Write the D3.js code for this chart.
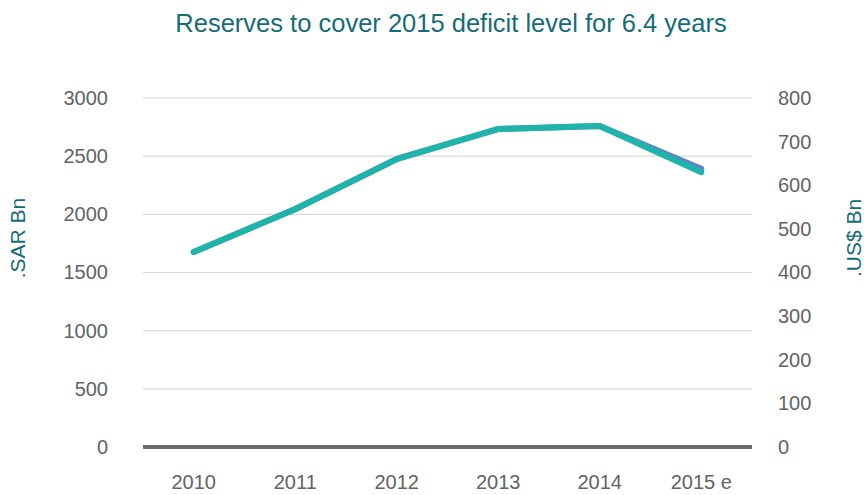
<!DOCTYPE html>
<html>
<head>
<meta charset="utf-8">
<script src="https://cdn.jsdelivr.net/npm/d3@7"></script>
<style>
  body { margin: 0; background: #fff; }
  svg { display: block; font-family: "Liberation Sans", Arial, sans-serif; }
</style>
</head>
<body>
<svg id="chart" width="864" height="495"></svg>
<script>
// Reserve levels by year
const years = ["2010", "2011", "2012", "2013", "2014", "2015 e"];
const reservesSAR = [1676, 2046, 2476, 2733, 2760, 2392];   // left axis, SAR Bn
const reservesUSD = [447, 545, 660, 729, 736, 630];         // right axis, US$ Bn
const leftTicks = [0, 500, 1000, 1500, 2000, 2500, 3000];
const rightTicks = [0, 100, 200, 300, 400, 500, 600, 700, 800];

const svg = d3.select("#chart");
const m = { left: 143, right: 752, top: 98, bottom: 447 };
const font = "'Liberation Sans', Arial, sans-serif";

const x = d3.scaleBand().domain(years).range([m.left, m.right]);
const yL = d3.scaleLinear().domain([0, 3000]).range([m.bottom, m.top]);
const yR = d3.scaleLinear().domain([0, 800]).range([m.bottom, m.top]);

// Gridlines
svg.append("g").selectAll("line").data(leftTicks.filter(d => d > 0)).join("line")
  .attr("x1", m.left).attr("x2", m.right)
  .attr("y1", d => yL(d)).attr("y2", d => yL(d))
  .attr("stroke", "#d9d9d9").attr("stroke-width", 1.2);

// Left axis
const axL = svg.append("g").attr("transform", `translate(${m.left},0)`)
  .call(d3.axisLeft(yL).tickValues(leftTicks).tickFormat(d3.format("d"))
    .tickSize(0).tickPadding(35));
axL.select(".domain").remove();
axL.selectAll("text").attr("fill", "#636363").style("font-size", "20px")
  .style("font-family", font);

// Right axis
const axR = svg.append("g").attr("transform", `translate(${m.right},0)`)
  .call(d3.axisRight(yR).tickValues(rightTicks).tickFormat(d3.format("d"))
    .tickSize(0).tickPadding(26));
axR.select(".domain").remove();
axR.selectAll("text").attr("fill", "#636363").style("font-size", "20px")
  .style("font-family", font);

// Category axis
const axX = svg.append("g").attr("transform", `translate(0,${m.bottom})`)
  .call(d3.axisBottom(x).tickSize(0).tickPadding(28));
axX.select(".domain").remove();
axX.selectAll("text").attr("fill", "#636363").style("font-size", "20px")
  .style("font-family", font);

// Zero baseline
svg.append("line")
  .attr("x1", m.left).attr("x2", m.right)
  .attr("y1", yL(0)).attr("y2", yL(0))
  .attr("stroke", "#6b6b6b").attr("stroke-width", 4);

// Series lines
const cx = d => x(d) + x.bandwidth() / 2;
const lineSAR = d3.line().x((d, i) => cx(years[i])).y(d => yL(d));
const lineUSD = d3.line().x((d, i) => cx(years[i])).y(d => yR(d));

svg.append("path").datum(reservesSAR).attr("d", lineSAR)
  .attr("fill", "none").attr("stroke", "#5a86c8").attr("stroke-width", 6)
  .attr("stroke-linecap", "round").attr("stroke-linejoin", "round");
svg.append("path").datum(reservesUSD).attr("d", lineUSD)
  .attr("fill", "none").attr("stroke", "#1fb3a9").attr("stroke-width", 6)
  .attr("stroke-linecap", "round").attr("stroke-linejoin", "round");

// Title
svg.append("text").attr("x", 451).attr("y", 32).attr("text-anchor", "middle")
  .attr("fill", "#156c78").style("font-size", "25.5px")
  .text("Reserves to cover 2015 deficit level for 6.4 years");

// Axis titles
svg.append("text").attr("transform", "translate(25,238) rotate(-90)")
  .attr("text-anchor", "middle").attr("fill", "#156c78").style("font-size", "21px")
  .text(".SAR Bn");
svg.append("text").attr("transform", "translate(861,238) rotate(-90)")
  .attr("text-anchor", "middle").attr("fill", "#156c78").style("font-size", "21px")
  .text(".US$ Bn");
</script>
</body>
</html>
